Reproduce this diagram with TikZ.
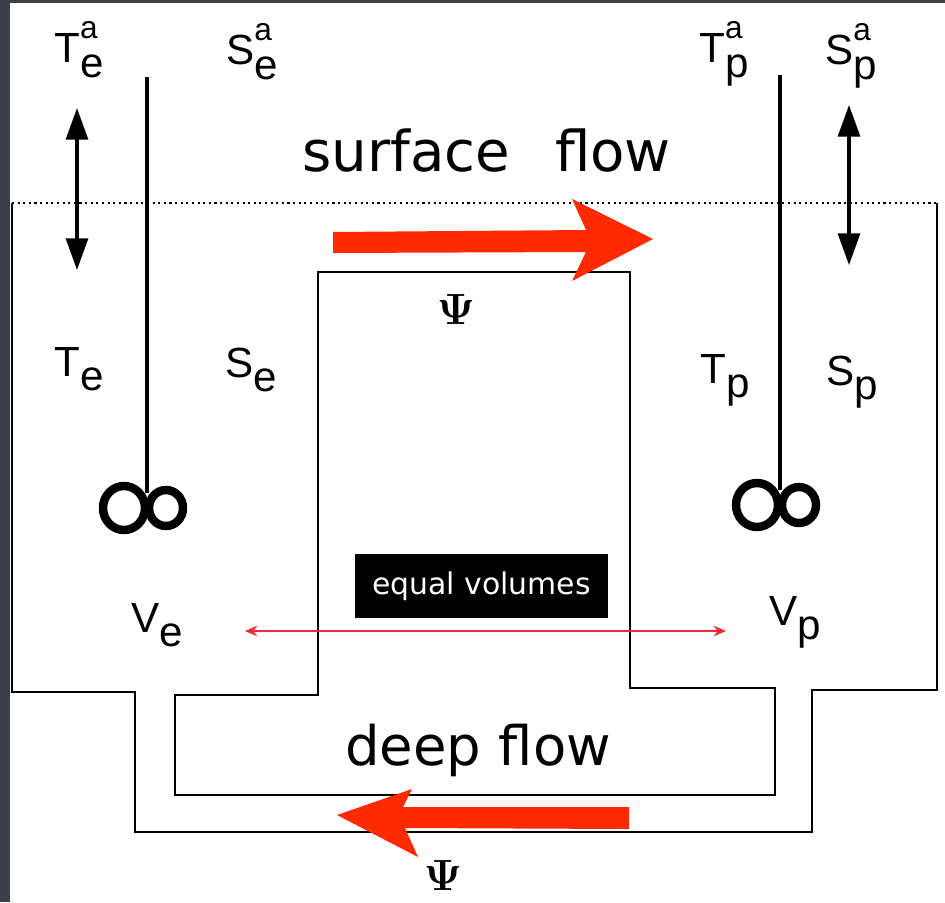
\documentclass[tikz,border=0pt]{standalone}
\usepackage[no-math]{fontspec}
\setmainfont{Liberation Sans}
\newfontfamily\handfont{DejaVu Sans}
\usetikzlibrary{arrows.meta}

\definecolor{framegray}{HTML}{3C3F47}
\definecolor{flowred}{HTML}{FF2A00}
\definecolor{volred}{HTML}{F0283C}

\newcommand{\lblsub}[2]{#1\raisebox{-8.5pt}{#2}}
\newcommand{\lblsubsup}[3]{#1\rlap{\raisebox{14pt}{\fontsize{18}{18}\selectfont #3}}\raisebox{-8.5pt}{#2}}

\begin{document}
\begin{tikzpicture}[x=0.02cm,y=-0.02cm]
\tikzstyle{every node}+=[inner sep=0pt]
\tikzstyle{sym}=[anchor=base west,font=\fontsize{24}{24}\selectfont]
\tikzstyle{flowtext}=[anchor=base west,font=\handfont\fontsize{32}{32}\selectfont]
\tikzstyle{wall}=[black,line width=1.1pt]
\tikzstyle{stirrer}=[black,line width=2.2pt]
\tikzstyle{loop}=[black,line width=4.8pt]
\tikzstyle{exchange}=[black,line width=1.8pt,{Triangle[length=18pt,width=12.5pt]}-{Triangle[length=18pt,width=12.5pt]}]
\useasboundingbox (0,0) rectangle (945,902);
\fill [framegray] (0,0) rectangle (945,902);
\fill [white] (10,3) rectangle (945,902);
% sea surface and basins
\draw [black,dotted,line width=1.2pt] (12,203) -- (937,203);
\draw [wall] (12,203) -- (12,692) -- (135,692) -- (135,832) -- (812,832) -- (812,690) -- (937,690) -- (937,203);
\draw [wall] (318,272) -- (630,272) -- (630,688) -- (775,688) -- (775,795) -- (175,795) -- (175,695) -- (318,695) -- cycle;
% stirrers
\draw [stirrer] (147,77) -- (147,493);
\draw [loop] (124,508) ellipse (21 and 22);
\draw [loop] (166,508) ellipse (17 and 18);
\draw [stirrer] (780,75) -- (780,490);
\draw [loop] (757,505) ellipse (21 and 22);
\draw [loop] (799,505) ellipse (17 and 18);
% air-sea exchange
\coordinate (exTop) at (77,108);
\coordinate (exBot) at (77,270);
\draw [exchange] (exTop) -- (exBot);
\coordinate (pxTop) at (849,105);
\coordinate (pxBot) at (849,265);
\draw [exchange] (pxTop) -- (pxBot);
% labels
\node (Tea) [sym] at (54,63) {\lblsubsup{T}{e}{a}};
\node (Sea) [sym] at (226,65) {\lblsubsup{S}{e}{a}};
\node (Tpa) [sym] at (699,63) {\lblsubsup{T}{p}{a}};
\node (Spa) [sym] at (825,65) {\lblsubsup{S}{p}{a}};
\node (Te) [sym] at (54,376) {\lblsub{T}{e}};
\node (Se) [sym] at (225,377) {\lblsub{S}{e}};
\node (Tp) [sym] at (700,383) {\lblsub{T}{p}};
\node (Sp) [sym] at (826,385) {\lblsub{S}{p}};
\node (Ve) [sym] at (131,632) {\lblsub{V}{e}};
\node (Vp) [sym] at (769,625) {\lblsub{V}{p}};
% flows
\node (surf) [flowtext] at (302,172) {surface\hspace{0.8em}flow};
\node (deep) [flowtext,font=\handfont\fontsize{31}{31}\selectfont] at (345,765) {deep flow};
\fill [flowred] (333,232) -- (586,230) -- (572,199) -- (653,239) -- (572,281) -- (586,252) -- (333,253) -- cycle;
\fill [flowred] (629,807) -- (403,807) -- (412,789) -- (337,815) -- (418,857) -- (405,828) -- (629,829) -- cycle;
\node (psiTop) at (456,309) {\fontsize{23}{23}\selectfont$\mathbf{\Psi}$};
\node (psiBot) at (443,875) {\fontsize{23}{23}\selectfont$\mathbf{\Psi}$};
% equal volumes
\node (eqvol) [fill=black,text=white,minimum width=5.06cm,minimum height=1.28cm,font=\handfont\fontsize{17}{17}\selectfont] at (481.5,586) {equal volumes};
\coordinate (volL) at (245,631);
\coordinate (volR) at (726,631);
\draw [volred,line width=0.9pt,{Stealth[length=7pt,width=6pt]}-{Stealth[length=7pt,width=6pt]}] (volL) -- (volR);
\end{tikzpicture}
\end{document}
